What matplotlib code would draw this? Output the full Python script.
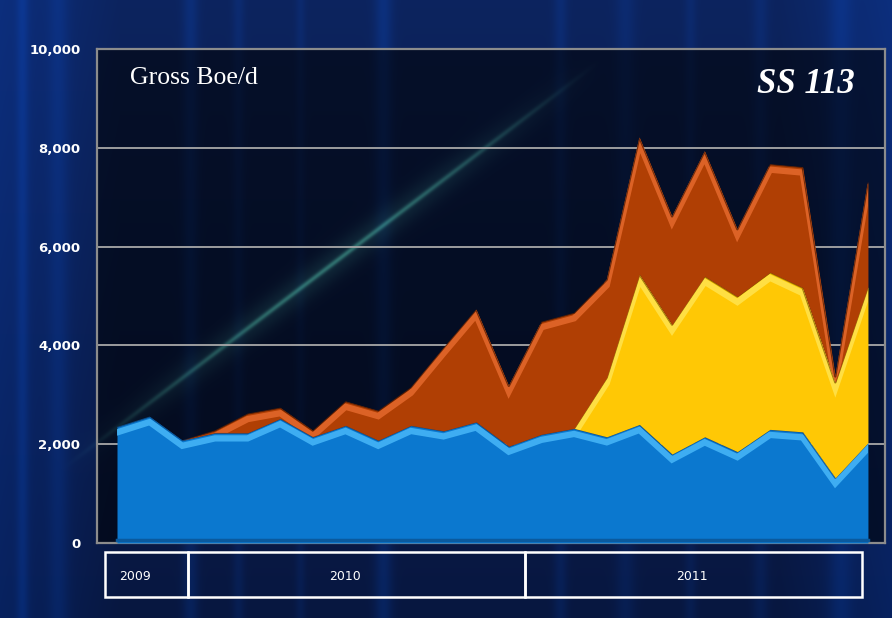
import numpy as np
import matplotlib
matplotlib.use("Agg")
import matplotlib.pyplot as plt
from matplotlib.transforms import ScaledTranslation
from matplotlib.patches import Rectangle

# ---------------- data ----------------
periods = list(range(24))
blue_vals = [2350, 2560, 2080, 2230, 2230, 2520, 2150, 2380, 2080, 2380, 2270, 2450,
             1960, 2200, 2320, 2150, 2400, 1800, 2150, 1850, 2300, 2250, 1320, 2030]
yellow_vals = [0, 0, 0, 0, 0, 0, 0, 0, 0, 0, 0, 0,
               0, 0, 0, 1200, 3040, 2620, 3250, 3140, 3180, 2920, 1930, 3160]
orange_vals = [0, 0, 0, 50, 390, 220, 130, 490, 600, 770, 1680, 2280,
               1220, 2280, 2340, 1980, 2770, 2190, 2530, 1360, 2190, 2440, 120, 2130]
y_ticks = [0, 2000, 4000, 6000, 8000, 10000]
y_tick_labels = ["0", "2,000", "4,000", "6,000", "8,000", "10,000"]
years = ["2009", "2010", "2011"]
title_left = "Gross Boe/d"
title_right = "SS 113"

W, H = 892, 618
fig = plt.figure(figsize=(W / 100, H / 100), dpi=100)

# ---------------- background image ----------------
yy, xx = np.mgrid[0:H, 0:W].astype(float)
r = 0.03 + 0.02 * (1 - yy / H)
g = 0.09 + 0.05 * (1 - yy / H)
b = 0.25 + 0.12 * (1 - yy / H)
edge = np.clip(1 - xx / 120, 0, 1) * 0.12 + np.clip((xx - 780) / 110, 0, 1) * 0.12
b += edge
g += edge * 0.35
for sx, sw, si in [(22, 6, 0.10), (58, 10, 0.08), (190, 8, 0.10), (238, 6, 0.07),
                   (300, 5, 0.06), (383, 9, 0.12), (560, 7, 0.08), (625, 10, 0.07),
                   (690, 6, 0.06), (760, 8, 0.07), (840, 12, 0.09)]:
    s = si * np.exp(-((xx - sx) / sw) ** 2)
    b += s
    g += s * 0.4
L, R, T, B = 97, 885, 49, 543
inside = (xx >= L) & (xx <= R) & (yy >= T) & (yy <= B)
dark = np.where(inside, 0.45, 1.0)
r *= dark; g *= dark; b *= dark
x0, y0, x1, y1 = 60, 470, 600, 60
dx, dy = x1 - x0, y1 - y0
ln = np.hypot(dx, dy)
t = ((xx - x0) * dx + (yy - y0) * dy) / ln ** 2
dist = np.abs((xx - x0) * dy - (yy - y0) * dx) / ln
fade = np.clip(np.sin(np.clip(t, 0, 1) * np.pi), 0, 1) ** 1.2
beam = fade * (0.35 * np.exp(-(dist / 2.5) ** 2) + 0.12 * np.exp(-(dist / 14.0) ** 2))
r += beam * 0.35; g += beam * 0.8; b += beam * 0.6
img = np.clip(np.dstack([r, g, b]), 0, 1)

bg = fig.add_axes([0, 0, 1, 1])
bg.imshow(img, aspect="auto", extent=[0, W, H, 0], interpolation="bilinear")
bg.set_xlim(0, W); bg.set_ylim(H, 0)
bg.axis("off")

# ---------------- main axes ----------------
ax = fig.add_axes([L / W, 1 - B / H, (R - L) / W, (B - T) / H])
ax.set_facecolor("none")
step = 32.65
ax.set_xlim((L - 117) / step, (R - 117) / step)
ax.set_ylim(0, 10000)

for yv in y_ticks[1:-1]:
    ax.axhline(yv, color="#a8a8a8", lw=1.3, zorder=1)

x = np.array(periods, dtype=float)
bl = np.array(blue_vals, dtype=float)
ye = bl + np.array(yellow_vals, dtype=float)
orr = ye + np.array(orange_vals, dtype=float)

layers = [
    (bl, np.zeros_like(bl), "#0b78cf", "#44b4f6", "#0a4f8f"),
    (ye, bl, "#ffc805", "#ffe24a", "#8a6500"),
    (orr, ye, "#b03f04", "#e2672a", "#5a1e02"),
]
down = ScaledTranslation(0, -4 / 72, fig.dpi_scale_trans)
for z, (top, bot, face, hi, edgec) in enumerate(layers):
    poly = ax.fill_between(x, bot, top, color=face, lw=0, zorder=3 + z * 3)
    path = poly.get_paths()[0]
    ln1, = ax.plot(x, top, color=hi, lw=4.5, alpha=0.9, zorder=4 + z * 3,
                   solid_joinstyle="miter", transform=ax.transData + down)
    ln1.set_clip_path(path, ax.transData)
    ln2, = ax.plot(x, top, color=edgec, lw=1.6, alpha=0.8, zorder=5 + z * 3)
    ln2.set_clip_path(path, ax.transData)

# darker strip at base of blue
ax.plot([x[0], x[-1]], [60, 60], color="#0a5a9e", lw=2.5, zorder=12)

ax.set_yticks(y_ticks)
ax.set_yticklabels(y_tick_labels, color="white", fontweight="bold", fontsize=9.5,
                   family="DejaVu Sans")
ax.tick_params(axis="y", length=0, pad=12)
ax.set_xticks([])
for side in ["top", "left", "right", "bottom"]:
    ax.spines[side].set_color("#8c8c8c")
    ax.spines[side].set_linewidth(1.6)

ax.text(130 / W, 1 - 84 / H, title_left, transform=fig.transFigure, color="white",
        fontsize=18.5, family="Liberation Serif", ha="left", va="baseline", zorder=20)
ax.text(855 / W, 1 - 93 / H, title_right, transform=fig.transFigure, color="white",
        fontsize=25, family="Liberation Serif", fontweight="bold", fontstyle="italic",
        ha="right", va="baseline", zorder=20)

# ---------------- year boxes ----------------
box_edges = [105, 188, 525, 862]
text_x = [135, 345, 692]
by0, by1 = 552, 597
for i, yr in enumerate(years):
    x0p, x1p = box_edges[i], box_edges[i + 1]
    rect = Rectangle((x0p / W, 1 - by1 / H), (x1p - x0p) / W, (by1 - by0) / H,
                     transform=fig.transFigure, fill=False, edgecolor="white", lw=1.8)
    fig.add_artist(rect)
    fig.text(text_x[i] / W, 1 - 576 / H, yr, color="white", fontsize=9,
             ha="center", va="center", family="DejaVu Sans")

fig.savefig("out.png", dpi=100)
